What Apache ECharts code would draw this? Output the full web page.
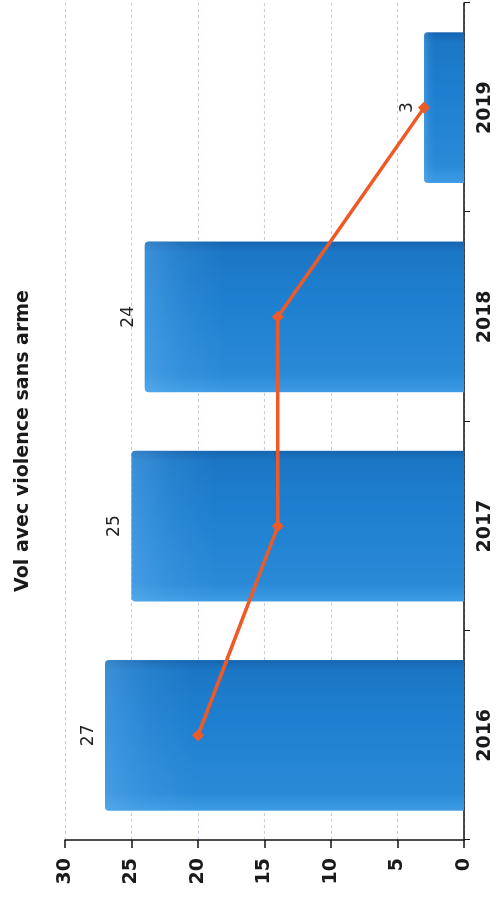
<!DOCTYPE html>
<html>
<head>
<meta charset="utf-8">
<script src="https://cdn.jsdelivr.net/npm/echarts@6/dist/echarts.min.js"></script>
<style>
html, body { margin:0; padding:0; width:497px; height:903px; overflow:hidden; background:#fff; }
#chart { position:absolute; left:0; top:0; width:903px; height:497px; transform-origin:0 0; transform:translate(0,903px) rotate(-90deg); }
</style>
</head>
<body>
<div id="chart"></div>
<script>
const titleText = 'Vol avec violence sans arme';
const categories = ['2016', '2017', '2018', '2019'];
const barValues = [27, 25, 24, 3];
const lineValues = [20, 14, 14, 3];
const valueMin = 0, valueMax = 30, valueStep = 5;

const chart = echarts.init(document.getElementById('chart'), null, { renderer: 'canvas' });
const font = 'DejaVu Sans';
chart.setOption({
  animation: false,
  backgroundColor: '#ffffff',
  title: {
    text: titleText,
    left: 457, top: 9, textAlign: 'center',
    textStyle: { fontFamily: font, fontSize: 19, fontWeight: 'bold', color: '#1a1a1a' }
  },
  grid: { left: 63, right: 3, top: 65, bottom: 33 },
  xAxis: {
    type: 'category', data: categories, boundaryGap: true,
    axisLine: { show: true, lineStyle: { color: '#111', width: 1.5 } },
    axisTick: { show: true, length: 6, lineStyle: { color: '#111' } },
    axisLabel: { margin: 12, fontFamily: font, fontSize: 19, fontWeight: 'bold', color: '#1a1a1a' },
    splitLine: { show: false }
  },
  yAxis: {
    type: 'value', min: valueMin, max: valueMax, interval: valueStep,
    axisLine: { show: true, lineStyle: { color: '#111', width: 1.5 } },
    axisTick: { show: true, length: 8, lineStyle: { color: '#111', width: 1.5 } },
    axisLabel: { margin: 18, fontFamily: font, fontSize: 19, fontWeight: 'bold', color: '#1a1a1a' },
    splitLine: { show: true, lineStyle: { color: '#c3cbe8', width: 1, type: [3, 3] } }
  },
  series: [
    {
      type: 'bar', data: barValues, barCategoryGap: '28%', barGap: '-100%',
      itemStyle: {
        borderRadius: [4, 4, 0, 0],
        color: new echarts.graphic.LinearGradient(0, 0, 1, 0, [
          { offset: 0, color: '#3d9be3' },
          { offset: 0.12, color: '#2a8ad8' },
          { offset: 0.6, color: '#1e7fd0' },
          { offset: 0.93, color: '#1b77c6' },
          { offset: 1, color: '#1565b0' }
        ])
      },
      label: { show: true, position: 'top', distance: 8, fontFamily: font, fontSize: 17, color: '#222' },
      z: 2
    },
    {
      type: 'bar', data: barValues, barCategoryGap: '28%', barGap: '-100%', silent: true,
      itemStyle: {
        borderRadius: [4, 4, 0, 0],
        color: new echarts.graphic.LinearGradient(0, 0, 0, 1, [
          { offset: 0, color: 'rgba(120,190,245,0.35)' },
          { offset: 0.12, color: 'rgba(120,190,245,0.12)' },
          { offset: 0.25, color: 'rgba(120,190,245,0)' },
          { offset: 1, color: 'rgba(120,190,245,0)' }
        ])
      },
      label: { show: false },
      z: 3
    },
    {
      type: 'line', data: lineValues,
      symbol: 'diamond', symbolSize: 12,
      lineStyle: { color: '#ee5a27', width: 3.5 },
      itemStyle: { color: '#ee5a27' },
      label: { show: false },
      z: 5
    }
  ]
});
</script>
</body>
</html>
